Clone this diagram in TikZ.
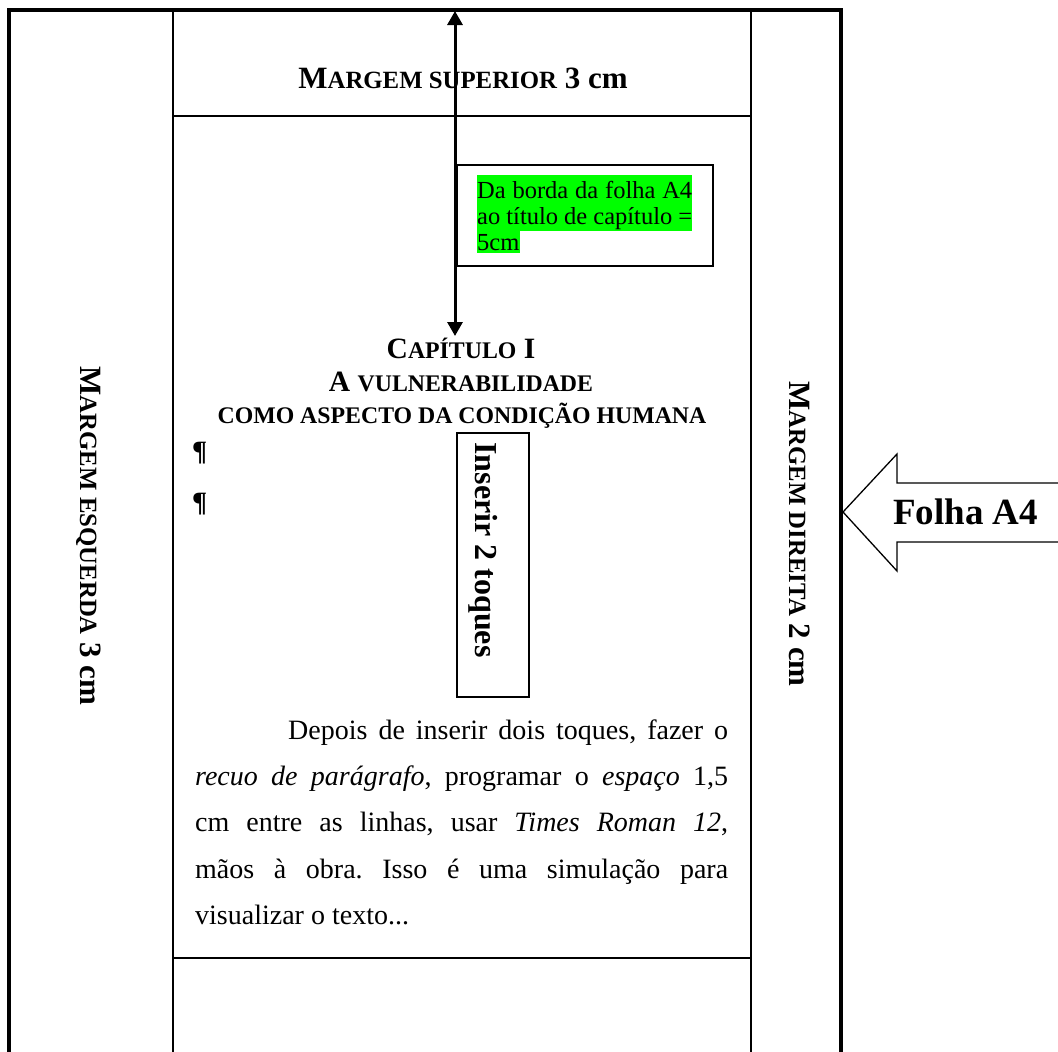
\documentclass[tikz,border=0pt]{standalone}
\usepackage{fontspec}
\setmainfont{Liberation Serif}
\usetikzlibrary{arrows.meta}
\definecolor{hlgreen}{RGB}{0,255,0}
\newcommand{\bigf}[1]{\fontsize{#1}{#1}\selectfont}
\frenchspacing
\tikzset{
  thickframe/.style={line width=4pt},
  thinline/.style={line width=1.8pt},
  bodytext/.style={inner sep=0pt, anchor=base west, font=\bigf{28}},
  notetext/.style={inner sep=0pt, anchor=base west, font=\bigf{24.5}},
  dimarrow/.style={line width=3pt, {Triangle[length=14pt,width=15pt]}-{Triangle[length=14pt,width=15pt]}},
}
\begin{document}
\begin{tikzpicture}[x=1pt,y=-1pt]
\useasboundingbox (0,0) rectangle (1058,1052);
\clip (0,0) rectangle (1058,1052);
% page frame
\draw[thickframe] (9,1070) -- (9,10) -- (841,10) -- (841,1070);
\draw[thinline] (173,10) -- (173,1070);
\draw[thinline] (751,10) -- (751,1070);
\draw[thinline] (173,116) -- (751,116);
\draw[thinline] (173,958) -- (751,958);
% margin labels
\node[anchor=base, inner sep=0pt, font=\bfseries] (msup) at (463,88)
  {\bigf{31}M{\bigf{24.8}ARGEM SUPERIOR} 3 cm};
\node[anchor=base, inner sep=0pt, rotate=-90, font=\bfseries] (mesq) at (80,536)
  {\bigf{31}M{\bigf{24.8}ARGEM ESQUERDA} 3 cm};
\node[anchor=base, inner sep=0pt, rotate=-90, font=\bfseries] (mdir) at (789,534)
  {\bigf{31}M{\bigf{24.8}ARGEM DIREITA} 2 cm};
% annotation box
\fill[hlgreen] (477,175) rectangle (692,231);
\fill[hlgreen] (477,231) rectangle (520,253);
\node[draw, line width=2pt, minimum width=256pt, minimum height=101pt, anchor=north west, inner sep=0pt] (nbox) at (456,164) {};
\node[notetext] (n1) at (477,198) {\makebox[215pt][s]{Da borda da folha A4}};
\node[notetext] (n2) at (477,224) {\makebox[215pt][s]{ao título de capítulo =}};
\node[notetext] (n3) at (477,250) {5cm};
% chapter heading
\node[anchor=base, inner sep=0pt, font=\bfseries] (c1) at (461,358)
  {\bigf{29.5}C{\bigf{23.8}APÍTULO} I};
\node[anchor=base, inner sep=0pt, font=\bfseries] (c2) at (461,391)
  {\bigf{29.5}A {\bigf{23.8}VULNERABILIDADE}};
\node[anchor=base, inner sep=0pt, font=\bfseries] (c3) at (462,423)
  {\bigf{23.8}COMO ASPECTO DA CONDIÇÃO HUMANA};
% dimension arrow
\coordinate (atop) at (455,11);
\coordinate (abot) at (455,336);
\draw[dimarrow] (abot) -- (atop);
% pilcrows
\node[inner sep=0pt, anchor=base west, font=\bfseries\bigf{28}] (p1) at (192,460) {¶};
\node[inner sep=0pt, anchor=base west, font=\bfseries\bigf{28}] (p2) at (192,511) {¶};
% inserir box
\node[draw, line width=2pt, minimum width=72pt, minimum height=264pt, anchor=north west, inner sep=0pt] (ibox) at (456,432) {};
\node[anchor=base, inner sep=0pt, rotate=-90, font=\bfseries\bigf{32}] (itxt) at (475,550) {Inserir 2 toques};
% body text
\node[bodytext] (b1) at (288,739) {\makebox[440pt][s]{Depois de inserir dois toques, fazer o}};
\node[bodytext] (b2) at (195,785) {\makebox[533pt][s]{\textit{recuo de parágrafo}, programar o \textit{espaço} 1,5}};
\node[bodytext] (b3) at (195,831) {\makebox[533pt][s]{cm entre as linhas, usar \textit{Times Roman 12},}};
\node[bodytext] (b4) at (195,878) {\makebox[533pt][s]{mãos à obra. Isso é uma simulação para}};
\node[bodytext] (b5) at (195,924) {visualizar o texto...};
% Folha A4 block arrow
\draw[line width=1.3pt, fill=white] (843,512) -- (897,454) -- (897,483) -- (1075,483) -- (1075,542) -- (897,542) -- (897,571) -- cycle;
\node[anchor=base west, inner sep=0pt, font=\bfseries\bigf{37}] (folha) at (893,524) {Folha A4};
\end{tikzpicture}
\end{document}
